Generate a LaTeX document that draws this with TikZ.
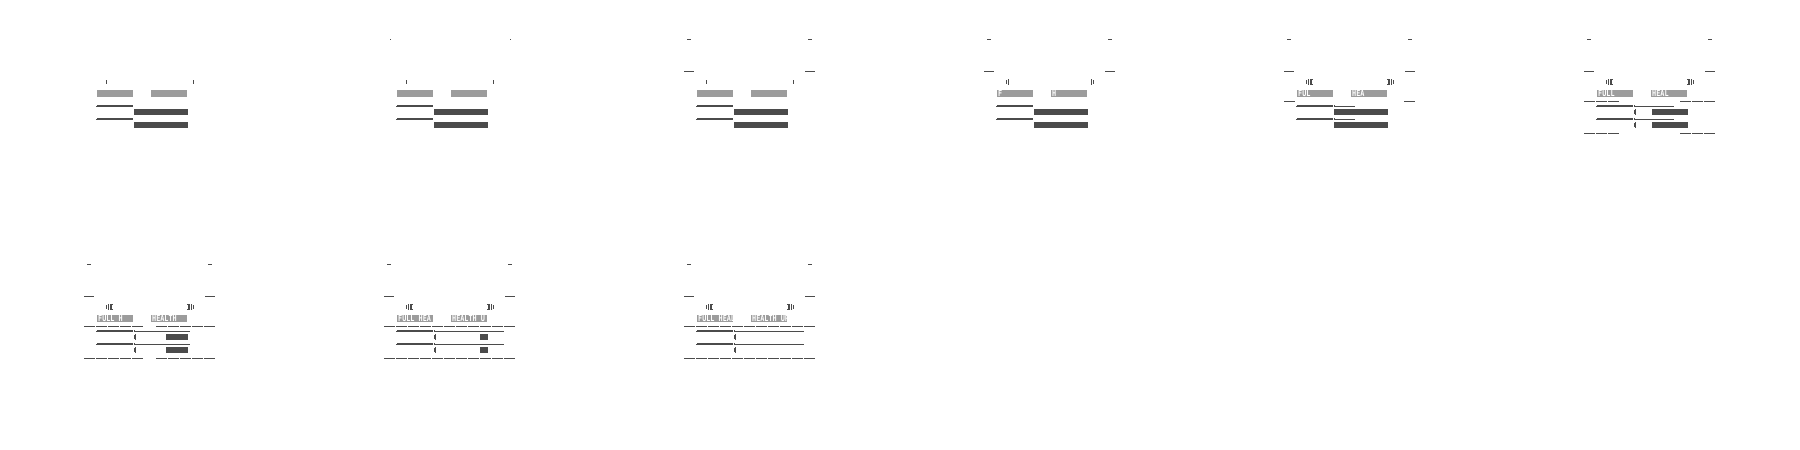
\documentclass[tikz,border=0pt]{standalone}
\usepackage{fontspec}
\usepackage{tikz}
\newfontfamily\pixfont[FakeStretch=0.83]{DejaVu Sans Mono}

\definecolor{barGray}{HTML}{9C9C9C}
\definecolor{barDark}{HTML}{4B4B4B}
\definecolor{labelInk}{HTML}{FFFFFF}

\tikzset{
  ink/.style={fill=barDark},
  lightbar/.style={fill=barGray},
  menulabel/.style={anchor=base west, inner sep=0pt, text=labelInk,
    font=\pixfont\bfseries\fontsize{8.2}{8}\selectfont},
}

% grey item bars and the thin rules under them
\newcommand{\menuBase}{%
  \fill[lightbar] (97,90) rectangle (133,97);
  \fill[lightbar] (151,90) rectangle (187,97);
  \foreach \y in {105,118} {
    \fill[ink] (97,\y+0.3) rectangle (133,\y+1.7);
    \fill[ink] (96,\y+1) rectangle (97,\y+1.7);
  }
}
% dark slots, starting at x = #1
\newcommand{\menuSlots}[1]{%
  \fill[ink] (#1,109) rectangle (188,115);
  \fill[ink] (#1,122) rectangle (188,128);
}
% small hooks in front of the slots
\newcommand{\menuHooks}{%
  \foreach \y in {109,122} {
    \fill[ink] (135,\y) rectangle (136,\y+6);
    \fill[ink] (134,\y+1) rectangle (135,\y+5);
  }
}
% rules running on to x = #1
\newcommand{\menuTails}[1]{%
  \foreach \y in {105,118} {
    \fill[ink] (134,\y) rectangle (135,\y+1.7);
    \fill[ink] (134,\y+1) rectangle (#1,\y+1.7);
  }
}
% single ticks
\newcommand{\menuTicks}{%
  \fill[ink] (106,80) rectangle (107,84);
  \fill[ink] (193,80) rectangle (194,84);
}
% double ticks
\newcommand{\menuGrips}{%
  \fill[ink] (106,80) rectangle (107,84);
  \fill[ink] (108,79) rectangle (109,85);
  \fill[ink] (191,79) rectangle (192,85);
  \fill[ink] (193,80) rectangle (194,84);
}
% double ticks with brackets
\newcommand{\menuBrackets}{%
  \menuGrips
  \fill[ink] (110,79) rectangle (112,85);
  \fill[ink] (112,79) rectangle (113,80);
  \fill[ink] (112,84) rectangle (113,85);
  \fill[ink] (188,79) rectangle (190,85);
  \fill[ink] (187,79) rectangle (188,80);
  \fill[ink] (187,84) rectangle (188,85);
}
% corner dots
\newcommand{\menuDots}{%
  \fill[ink] (89.5,39) rectangle (90.5,40);
  \fill[ink] (209.5,39) rectangle (210.5,40);
}
% corner dashes
\newcommand{\menuTop}{%
  \fill[ink] (87,39) rectangle (91,40);
  \fill[ink] (208,39) rectangle (212,40);
  \fill[ink] (84,71) rectangle (94,72);
  \fill[ink] (205,71) rectangle (215,72);
}
% dashed border at y = #1, dash slots #2
\newcommand{\menuDashes}[2]{%
  \foreach \n in {#2}
    \fill[ink] (84+12*\n,#1) rectangle (95+12*\n,#1+1);
}
% item names
\newcommand{\menuText}[3]{%
  \node[menulabel] (left#3) at (98,96.5) {#1};
  \node[menulabel] (right#3) at (152,96.5) {#2};
}

\begin{document}
\begin{tikzpicture}[x=1pt,y=-1pt]
  \fill[white] (0,0) rectangle (1800,450);
  \useasboundingbox (0,0) rectangle (1800,450);

  % Frame 1
  \begin{scope}[shift={(0,0)}]
    \menuBase \menuSlots{134} \menuTicks
  \end{scope}

  % Frame 2
  \begin{scope}[shift={(300,0)}]
    \menuBase \menuSlots{134} \menuTicks \menuDots
  \end{scope}

  % Frame 3
  \begin{scope}[shift={(600,0)}]
    \menuBase \menuSlots{134} \menuTicks \menuTop
  \end{scope}

  % Frame 4
  \begin{scope}[shift={(900,0)}]
    \menuBase \menuSlots{134} \menuGrips \menuTop
    \menuText{F}{H}{4}
  \end{scope}

  % Frame 5
  \begin{scope}[shift={(1200,0)}]
    \menuBase \menuSlots{134} \menuBrackets \menuTop
    \menuTails{155}
    \menuDashes{101}{0,10}
    \menuText{FUL}{HEA}{5}
  \end{scope}

  % Frame 6
  \begin{scope}[shift={(1500,0)}]
    \menuBase \menuSlots{152} \menuHooks \menuBrackets \menuTop
    \menuTails{174}
    \menuDashes{101}{0,1,2,8,9,10}
    \menuDashes{132.5}{0,1,2,8,9,10}
    \menuText{FULL}{HEAL}{6}
  \end{scope}

  % Frame 7
  \begin{scope}[shift={(0,225)}]
    \menuBase \menuSlots{166} \menuHooks \menuBrackets \menuTop
    \menuTails{190}
    \menuDashes{101}{0,1,2,3,4,6,7,8,9,10}
    \menuDashes{132.5}{0,1,2,3,4,6,7,8,9,10}
    \menuText{FULL H}{HEALTH}{7}
  \end{scope}

  % Frame 8
  \begin{scope}[shift={(300,225)}]
    \menuBase \menuSlots{180} \menuHooks \menuBrackets \menuTop
    \menuTails{204}
    \menuDashes{101}{0,...,10}
    \menuDashes{132.5}{0,...,10}
    \menuText{FULL HEA}{HEALTH U}{8}
  \end{scope}

  % Frame 9
  \begin{scope}[shift={(600,225)}]
    \menuBase \menuHooks \menuBrackets \menuTop
    \menuTails{204}
    \menuDashes{101}{0,...,10}
    \menuDashes{132.5}{0,...,10}
    \menuText{FULL HEAL}{HEALTH UP}{9}
  \end{scope}
\end{tikzpicture}
\end{document}
